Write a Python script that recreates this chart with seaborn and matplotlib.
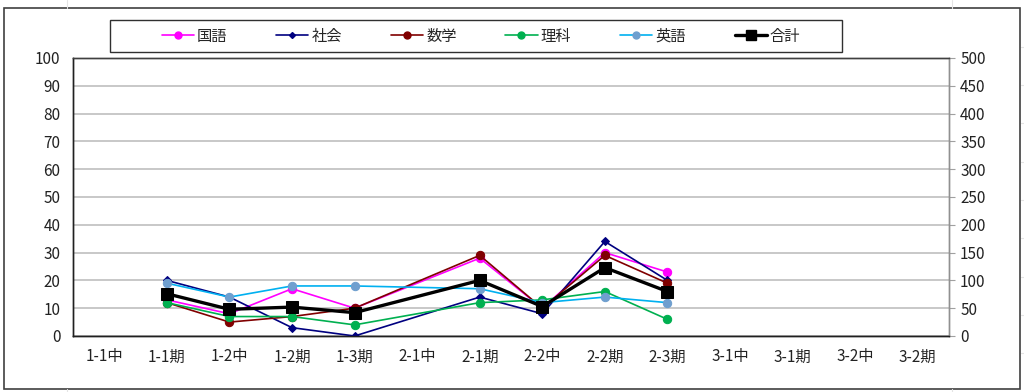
import numpy as np
import pandas as pd
import matplotlib
matplotlib.use('Agg')
import matplotlib.pyplot as plt
import seaborn as sns
from matplotlib.lines import Line2D
from matplotlib.patches import Rectangle

categories = ['1-1中', '1-1期', '1-2中', '1-2期', '1-3期', '2-1中', '2-1期',
              '2-2中', '2-2期', '2-3期', '3-1中', '3-1期', '3-2中', '3-2期']
kokugo = [None, 13, 8, 17, 10, None, 28, 10, 30, 23, None, None, None, None]
shakai = [None, 20, 14, 3, 0, None, 14, 8, 34, 20, None, None, None, None]
sugaku = [None, 12, 5, 7, 10, None, 29, 10, 29, 19, None, None, None, None]
rika = [None, 12, 7, 7, 4, None, 12, 13, 16, 6, None, None, None, None]
eigo = [None, 19, 14, 18, 18, None, 17, 12, 14, 12, None, None, None, None]
goukei = [None, 76, 48, 52, 42, None, 100, 53, 123, 80, None, None, None, None]

df = pd.DataFrame({'区分': categories, '国語': kokugo, '社会': shakai, '数学': sugaku,
                   '理科': rika, '英語': eigo, '合計': goukei}, dtype=object)
df['pos'] = np.arange(len(categories))

sns.set_style('white')
plt.rcParams['font.family'] = ['Noto Sans CJK JP', 'DejaVu Sans']

# subject -> (line colour, marker, marker colour, marker size)
styles = {
    '国語': ('#ff00ff', 'o', '#ff00ff', 6),
    '社会': ('#000080', 'D', '#000080', 4),
    '数学': ('#800000', 'o', '#800000', 6),
    '理科': ('#00b050', 'o', '#00b050', 6),
    '英語': ('#00b0f0', 'o', '#6f9fcf', 6),
}

fig = plt.figure(figsize=(10.24, 3.92), dpi=100)
ax = fig.add_axes([73 / 1024, 1 - 336 / 392, 876 / 1024, 278 / 392])
ax2 = ax.twinx()

handles = []
for name, (lc, mk, mc, ms) in styles.items():
    d = df[['pos', name]].dropna().astype(float)
    sns.lineplot(data=d, x='pos', y=name, ax=ax, color=lc, linewidth=1.2,
                 marker=mk, markersize=ms, markerfacecolor=mc,
                 markeredgecolor=mc, sort=False, zorder=3)
    handles.append(Line2D([], [], color=lc, lw=1.2, marker=mk, ms=ms - 1,
                          mfc=mc, mec=mc, label=name))

d = df[['pos', '合計']].dropna().astype(float)
sns.lineplot(data=d, x='pos', y='合計', ax=ax2, color='black', linewidth=2.4,
             marker='s', markersize=9, markerfacecolor='black',
             markeredgecolor='black', sort=False, zorder=4)
handles.append(Line2D([], [], color='black', lw=2.4, marker='s', ms=7,
                      label='合計'))

ax.set_xlim(-0.5, len(categories) - 0.5)
ax.set_ylim(0, 100)
ax2.set_ylim(0, 500)
ax.set_yticks(np.arange(0, 101, 10))
ax2.set_yticks(np.arange(0, 501, 50))
ax.set_xticks(np.arange(-0.5, len(categories), 1))
ax.set_xticklabels([])
ax.set_xticks(df['pos'], minor=True)
ax.set_xticklabels(categories, minor=True)
ax.set_xlabel('')
ax.set_ylabel('')
ax2.set_ylabel('')

ax.yaxis.grid(True, color='#c8c8c8', linewidth=1.4)
ax.set_axisbelow(True)
ax.tick_params(axis='x', which='major', direction='out', length=5, color='#404040')
ax.tick_params(axis='x', which='minor', length=0, pad=9, labelsize=11, labelcolor='#222222')
ax.tick_params(axis='y', length=0, pad=9, labelsize=11, labelcolor='#222222')
ax2.tick_params(axis='y', direction='out', length=4, color='#a0a0a0', pad=4,
                labelsize=11, labelcolor='#222222')

for a in (ax, ax2):
    a.spines['left'].set_color('#202020')
    a.spines['bottom'].set_color('#202020')
    a.spines['top'].set_color('#404040')
    a.spines['right'].set_color('#909090')
    for s in a.spines.values():
        s.set_linewidth(1.0)

# legend box
fig.patches.append(Rectangle((110 / 1024, 1 - 52 / 392), 732 / 1024, 32 / 392,
                             transform=fig.transFigure, fill=False,
                             edgecolor='#303030', linewidth=1.0))
fig.legend(handles=handles, loc='center', bbox_to_anchor=(481 / 1024, 1 - 36 / 392),
           ncol=6, frameon=False, fontsize=11, handlelength=2.1,
           handletextpad=0.2, columnspacing=3.2)

# faint sheet cell lines outside the chart
for y in [47, 85, 123, 162, 200, 238, 277, 315, 353]:
    fig.add_artist(Line2D([1021 / 1024, 1], [1 - y / 392] * 2, color='#e4e4e4', lw=0.8))
for x in [67, 952]:
    fig.add_artist(Line2D([x / 1024] * 2, [1 - 8 / 392, 1], color='#e4e4e4', lw=0.8))
    fig.add_artist(Line2D([x / 1024] * 2, [0, 1 - 389 / 392], color='#e4e4e4', lw=0.8))

# chart area border
fig.patches.append(Rectangle((4 / 1024, 1 - 389 / 392), 1016 / 1024, 381 / 392,
                             transform=fig.transFigure, fill=False,
                             edgecolor='#404040', linewidth=1.2))

fig.savefig('out.png', dpi=100)
